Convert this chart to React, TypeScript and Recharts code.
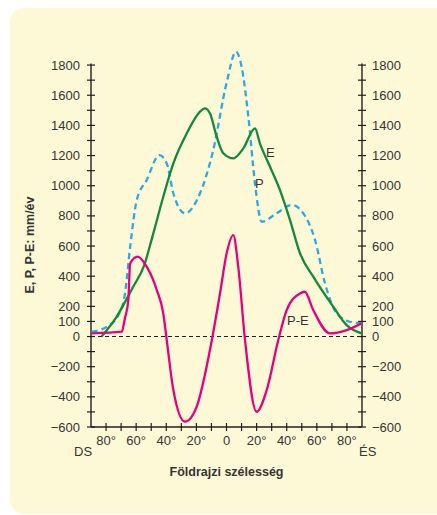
import React from 'react';
import { LineChart, Line, XAxis, YAxis, ReferenceLine } from 'recharts';

// latitude in degrees (south negative), values in mm/év
const eLat = [-83, -73, -62, -55, -48.6, -42, -35.3, -26.4, -17.6, -14.3, -11, -6.5, -2.1, 4.5, 11.2, 18.9, 22.2, 28.9, 35.5, 42.2, 48.8, 57.6, 70.9, 79.8, 89.8];
const eVal = [0, 131, 330, 463, 684, 927, 1148, 1347, 1491, 1513, 1480, 1325, 1215, 1181, 1248, 1380, 1281, 1126, 971, 772, 552, 397, 198, 76, 21];

const pLat = [-89.5, -79.5, -71.8, -67.4, -64, -59.6, -53, -44.6, -39.7, -35.3, -27.6, -17.6, -8.8, 0, 6.3, 10, 14.5, 18.9, 23.4, 33.3, 43.3, 51, 58.8, 65.4, 73.2, 82, 89.8];
const pVal = [32, 65, 143, 286, 595, 905, 1038, 1203, 1148, 950, 817, 950, 1237, 1679, 1889, 1790, 1458, 1016, 761, 817, 872, 817, 640, 353, 154, 98, 88];

const peLat = [-89.5, -69.6, -67.5, -65.2, -64, -59, -53, -46.3, -42, -39.7, -35.3, -27.6, -19.8, -11, -4.3, 0.1, 4.5, 7.8, 12.3, 20, 26.7, 34.4, 40, 48.8, 52, 57.6, 68.7, 79.8, 89.8];
const peVal = [21, 32, 120, 242, 485, 530, 463, 308, 154, -23, -355, -565, -465, -90, 286, 552, 673, 463, -23, -499, -355, -23, 176, 286, 297, 176, 21, 43, 88];

const yTicks = [-600, -500, -400, -300, -200, -100, 0, 100, 200, 300, 400, 500, 600, 700, 800, 900, 1000, 1100, 1200, 1300, 1400, 1500, 1600, 1700, 1800];
const yLabeled = [-600, -400, -200, 0, 100, 200, 400, 600, 800, 1000, 1200, 1400, 1600, 1800];
const xTicks = [-80, -70, -60, -50, -40, -30, -20, -10, 0, 10, 20, 30, 40, 50, 60, 70, 80];
const xLabeled = [-80, -60, -40, -20, 0, 20, 40, 60, 80];

const toPoints = (lat: number[], val: number[]) => lat.map((l, i) => ({ lat: l, v: val[i] }));
const eData = toPoints(eLat, eVal);
const pData = toPoints(pLat, pVal);
const peData = toPoints(peLat, peVal);

const FONT = '"Liberation Sans", Arial, Helvetica, sans-serif';
const AXIS = '#231f20';
const TEXT = '#353535';

const fmtY = (v: number) => (v < 0 ? `\u2212${Math.abs(v)}` : `${v}`);
const fmtX = (v: number) => (v === 0 ? '0' : `${Math.abs(v)}°`);

const YTick = ({ x, y, payload, side }: any) => {
  const v = payload.value;
  const show = yLabeled.includes(v);
  return (
    <g>
      <line x1={x - 4} x2={x + 4} y1={y} y2={y} stroke={AXIS} strokeWidth={1.2} />
      {show && (
        <text
          x={side === 'left' ? x - 11 : x + 10}
          y={y}
          dy={4.5}
          textAnchor={side === 'left' ? 'end' : 'start'}
          fontSize={13}
          fontFamily={FONT}
          fill={TEXT}
        >
          {fmtY(v)}
        </text>
      )}
    </g>
  );
};

const XTick = ({ x, y, payload }: any) => {
  const v = payload.value;
  const show = xLabeled.includes(v);
  return (
    <g>
      <line x1={x} x2={x} y1={y - 4} y2={y + 4} stroke={AXIS} strokeWidth={1.2} />
      {show && (
        <text x={x} y={y + 18} textAnchor="middle" fontSize={13} fontFamily={FONT} fill={TEXT}>
          {fmtX(v)}
        </text>
      )}
    </g>
  );
};

const abs = (left: number, top: number, extra: React.CSSProperties = {}): React.CSSProperties => ({
  position: 'absolute',
  left,
  top,
  fontFamily: FONT,
  color: TEXT,
  fontSize: 13,
  lineHeight: '15px',
  whiteSpace: 'nowrap',
  ...extra,
});

export default function App() {
  return (
    <div style={{ position: 'absolute', left: 0, top: 0, width: 437, height: 515, overflow: 'hidden', background: '#fff' }}>
      <div
        style={{
          position: 'absolute',
          left: 10,
          top: 8,
          width: 440,
          height: 506,
          borderRadius: 14,
          background: '#fdf9d6',
        }}
      />
      <div style={{ position: 'absolute', left: 0, top: 0 }}>
        <LineChart width={437} height={515} margin={{ top: 50, right: 0, bottom: 58, left: 0 }}>
          <XAxis
            dataKey="lat"
            type="number"
            domain={[-90, 90]}
            ticks={xTicks}
            interval={0}
            tick={<XTick />}
            tickLine={false}
            tickSize={0}
            tickMargin={0}
            height={30}
            axisLine={{ stroke: AXIS, strokeWidth: 1.4 }}
            allowDataOverflow
          />
          <YAxis
            yAxisId="left"
            orientation="left"
            type="number"
            domain={[-600, 1900]}
            ticks={yTicks}
            interval={0}
            width={91}
            tick={<YTick side="left" />}
            tickLine={false}
            tickSize={0}
            tickMargin={0}
            axisLine={false}
          />
          <YAxis
            yAxisId="right"
            orientation="right"
            type="number"
            domain={[-600, 1900]}
            ticks={yTicks}
            interval={0}
            width={75}
            tick={<YTick side="right" />}
            tickLine={false}
            tickSize={0}
            tickMargin={0}
            axisLine={false}
          />
          <ReferenceLine
            yAxisId="left"
            segment={[{ x: -90, y: -600 }, { x: -90, y: 1810 }]}
            stroke={AXIS}
            strokeWidth={1.4}
            ifOverflow="visible"
          />
          <ReferenceLine
            yAxisId="left"
            segment={[{ x: 90, y: -600 }, { x: 90, y: 1810 }]}
            stroke={AXIS}
            strokeWidth={1.4}
            ifOverflow="visible"
          />
          <ReferenceLine yAxisId="left" y={0} stroke={AXIS} strokeWidth={1.2} strokeDasharray="4 3" />
          <Line
            yAxisId="left"
            data={pData}
            dataKey="v"
            type="monotone"
            stroke="#29abe2"
            strokeWidth={2.3}
            strokeDasharray="6 4"
            dot={false}
            isAnimationActive={false}
          />
          <Line
            yAxisId="right"
            data={eData}
            dataKey="v"
            type="monotone"
            stroke="#13893b"
            strokeWidth={2.3}
            dot={false}
            isAnimationActive={false}
          />
          <Line
            yAxisId="left"
            data={peData}
            dataKey="v"
            type="monotone"
            stroke="#e6007e"
            strokeWidth={2.3}
            dot={false}
            isAnimationActive={false}
          />
        </LineChart>
      </div>
      <div style={abs(266, 145)}>E</div>
      <div style={abs(255, 176)}>P</div>
      <div style={abs(287, 313)}>P-E</div>
      <div style={abs(74, 444)}>DS</div>
      <div style={abs(359, 444)}>ÉS</div>
      <div style={abs(0, 465, { width: 453, textAlign: 'center', fontWeight: 'bold', fontSize: 12.5 })}>
        Földrajzi szélesség
      </div>
      <div
        style={abs(30, 245, {
          fontWeight: 'bold',
          fontSize: 12.5,
          transform: 'translate(-50%, -50%) rotate(-90deg)',
        })}
      >
        E, P, P-E: mm/év
      </div>
    </div>
  );
}
